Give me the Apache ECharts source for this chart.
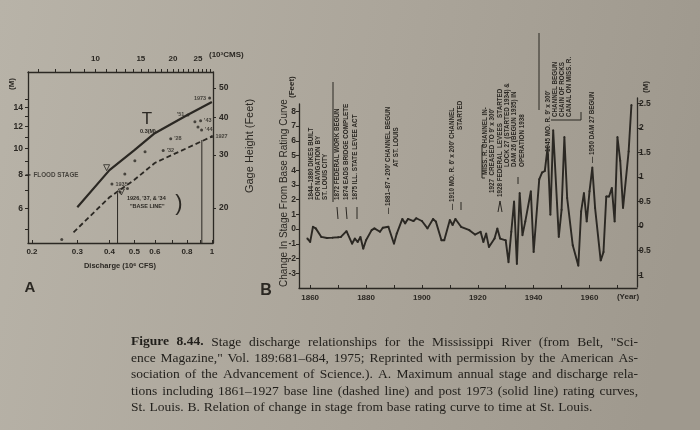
<!DOCTYPE html>
<html><head><meta charset="utf-8">
<script src="https://cdn.jsdelivr.net/npm/echarts@6/dist/echarts.min.js"></script>
<style>html,body{margin:0;padding:0;background:#aca69b;}#c{width:700px;height:430px;}</style>
</head><body><div id="c"></div>
<script>
// ---------- Panel A : stage vs discharge (log-log) ----------
const ratingQ = [0.30, 0.40, 0.50, 0.60, 0.80, 1.00];          // 10^6 cfs, post-1973 curve (solid)
const ratingFt = [20.1, 26.7, 31.1, 35.4, 40.6, 44.9];          // gage height, ft
const baseQ = [0.29, 0.40, 0.50, 0.60, 0.80, 1.00];             // 1861-1927 base line (dashed)
const baseFt = [16.6, 21.7, 24.8, 28.2, 31.6, 34.5];
const floodQ = [0.98, 0.807, 0.904, 0.859, 0.883, 0.912, 0.692, 0.647, 0.550, 0.502, 0.459, 0.409, 0.261, 0.44, 0.47, 1.00];
const floodFt = [46.3, 40.7, 38.9, 38.6, 37.1, 36.3, 33.9, 31.0, 30.7, 28.7, 25.9, 24.0, 15.7, 22.6, 23.2, 34.5];
const floodLabels = ['1973', "'51", "'43", '', '', "'44", "'28", "'32", '', '', '', '1935', '', '', '', '1927'];
const markerQ = [0.39, 0.445];
const markerFt = [27.2, 22.6];
const dropQ = [0.43, 0.914];
const dropTopFt = [22.4, 33.6];
const dischargeTicks = [0.2, 0.3, 0.4, 0.5, 0.6, 0.7, 0.8, 0.9, 1.0];
const dischargeLabels = [0.2, 0.3, 0.4, 0.5, 0.6, 0.8, 1];
const cmsTicks = [6,7,8,9,10,11,12,13,14,15,16,17,18,19,20,21,22,23,24,25,26,27,28];
const cmsLabels = [10, 15, 20, 25];
const gageFtLabels = [20, 30, 40, 50];
const stageMLabels = [6, 8, 10, 12, 14];
const stageMTicks = [5, 6, 7, 8, 9, 10, 11, 12, 13, 14, 15];

// ---------- Panel B : change in stage vs time ----------
const years = [1859,1860,1861,1862,1864,1866,1868,1870,1871,1873,1875,1876,1877,1878,1879,1880,1882,1883,1885,1886,1888,1890,1891,1893,1894,1895,1897,1898,1900,1902,1904,1905,1907,1908,1910,1911,1912,1914,1917,1919,1921,1922,1923,1924,1926,1927,1928,1930,1931,1932,1933,1934,1935,1936,1937,1939,1940,1942,1943,1944,1945,1946,1947,1949,1950,1951,1952,1954,1956,1957,1958,1959,1960,1961,1962,1964,1965,1966,1967,1968,1969,1970,1971,1972,1974,1975];
const stageChangeFt = [-0.64,-0.87,0.16,0.05,-0.53,-0.60,-0.58,-0.55,-0.53,-0.14,-0.99,-0.64,-0.87,-0.53,-1.33,-0.76,-0.07,0.05,-0.18,0.09,0.16,-0.99,-0.30,0.69,0.39,0.69,0.55,0.74,0.55,0.05,0.69,0.51,-0.76,-0.76,0.62,0.28,0.69,0.16,-0.07,-0.37,-0.18,-0.87,-0.30,-1.22,-0.64,0.05,-0.64,-0.76,-2.25,-0.18,1.88,-2.37,2.45,-0.41,0.51,2.57,-1.56,3.38,3.84,3.95,5.56,0.97,6.71,-0.53,1.31,6.25,2.11,-1.10,-2.48,1.20,2.45,0.51,2.57,4.18,1.43,-2.14,-1.56,2.22,2.22,2.80,0.51,6.25,4.64,1.43,5.27,8.43];
const yearTicks = [1860, 1880, 1900, 1920, 1940, 1960];
const yearMinorTicks = [1860,1870,1880,1890,1900,1910,1920,1930,1940,1950,1960,1970];
const ftTicks = [-3,-2,-1,0,1,2,3,4,5,6,7,8];
const mTicks = [-1,-0.5,0,0.5,1,1.5,2,2.5];

const captionBold = 'Figure 8.44.';
const captionLines = [
  'Figure 8.44.  Stage discharge relationships for the Mississippi River (from Belt, "Sci-',
  'ence Magazine," Vol. 189:681\u2013684, 1975; Reprinted with permission by the American As-',
  'sociation of the Advancement of Science.). A. Maximum annual stage and discharge rela-',
  'tions including 1861\u20131927 base line (dashed line) and post 1973 (solid line) rating curves,',
  'St. Louis. B. Relation of change in stage from base rating curve to time at St. Louis.'
];

// annotation columns of panel B (text, column x, start y at bottom; read upward)
const notesB = [
  ['1844\u20131880 DIKES BUILT', 311, 200], ['FOR NAVIGATION BY', 318, 200], ['ST. LOUIS CITY', 325, 200],
  ['1872 FEDERAL WORK BEGUN', 337, 200], ['1874 EADS BRIDGE COMPLETE', 346, 200], ['1875 ILL. STATE LEVEE ACT', 355, 200],
  ["\u2014 1881\u201387 \u2022 200' CHANNEL BEGUN", 388, 214], ['AT ST. LOUIS', 396, 167],
  ["\u2014 1910 MO. R. 6' x 200' CHANNEL", 452, 210], ['STARTED', 460, 130],
  ['MISS. R. CHANNEL IN-', 485, 175], ["1927  CREASED TO 9' x 300'", 492, 193],
  ['1928 FEDERAL  LEVEES   STARTED', 500, 197],
  ['LOCK 27 (STARTED 1934) &', 507, 167], ['DAM 26 (BEGUN 1935) IN', 514, 167], ['OPERATION 1938', 522, 167],
  ["\u2014 1945 MO. R. 9' x 300'", 548, 160], ['CHANNEL BEGUN', 555, 117], ['CHAIN OF ROCKS', 562, 117], ['CANAL ON MISS. R.', 569, 117],
  ['\u2014 1950 DAM 27 BEGUN', 592, 163]
];

const INK = '#2b2823';
const L = Math.log10;
const CFS_PER_KCMS = 0.0353147;          // 10^3 m3/s in 10^6 ft3/s
const ftFromM = m => 2.9 * m + 2.54;     // stage (m) read against gage height (ft) in the figure
const xMinA = L(0.193), xMaxA = L(1.01), yMinA = L(15.3), yMaxA = L(56.5);
const FA = '"Liberation Sans", Arial, sans-serif';
const FS = '"Liberation Serif", serif';

const chart = echarts.init(document.getElementById('c'), null, {width:700, height:430});

const baseAxis = {
  axisLine:{show:true, onZero:false, lineStyle:{color:INK, width:1.3}},
  splitLine:{show:false},
  axisTick:{show:true, lineStyle:{color:INK, width:1}},
  axisLabel:{color:INK, fontFamily:FA, fontWeight:'bold', fontSize:8}
};
function ax(o){ return echarts.util.merge(echarts.util.clone(baseAxis), o, true); }

const graphics = [];
graphics.push({type:'text', x:45, y:-3, style:{text:'the river is near ...', font:'13px '+FS, fill:INK, verticalAlign:'middle'}});
graphics.push({type:'text', x:209, y:55, style:{text:'(10\u00b3CMS)', font:'bold 8px '+FA, fill:INK, verticalAlign:'middle'}});
graphics.push({type:'text', x:12, y:84, rotation:Math.PI/2, style:{text:'(M)', font:'bold 8px '+FA, fill:INK, align:'center', verticalAlign:'middle'}});
graphics.push({type:'text', x:250, y:146, rotation:Math.PI/2, style:{text:'Gage Height (Feet)', font:'11px '+FA, fill:INK, align:'center', verticalAlign:'middle'}});
graphics.push({type:'text', x:120, y:266, style:{text:'Discharge (10\u2076 CFS)', font:'bold 7.5px '+FA, fill:INK, align:'center', verticalAlign:'middle'}});
graphics.push({type:'text', x:147, y:119, style:{text:'T', font:'17px '+FA, fill:INK, align:'center', verticalAlign:'middle'}});
graphics.push({type:'text', x:148, y:131, style:{text:'0.3(M)', font:'bold 5.5px '+FA, fill:INK, align:'center', verticalAlign:'middle'}});
graphics.push({type:'text', x:127, y:198, style:{text:"1926, '37, & '34", font:'bold 5.5px '+FA, fill:INK, verticalAlign:'middle'}});
graphics.push({type:'text', x:130, y:206, style:{text:'"BASE LINE"', font:'bold 5.5px '+FA, fill:INK, verticalAlign:'middle'}});
graphics.push({type:'text', x:179, y:204, style:{text:')', font:'22px '+FA, fill:INK, align:'center', verticalAlign:'middle'}});
graphics.push({type:'text', x:30, y:288, style:{text:'A', font:'bold 15px '+FA, fill:INK, align:'center', verticalAlign:'middle'}});
graphics.push({type:'text', x:266, y:291, style:{text:'B', font:'bold 16px '+FA, fill:INK, align:'center', verticalAlign:'middle'}});
graphics.push({type:'text', x:284, y:287, rotation:Math.PI/2, style:{text:'Change In Stage From Base Rating Curve', font:'10px '+FA, fill:INK, align:'left', verticalAlign:'middle'}});
graphics.push({type:'text', x:292, y:98, rotation:Math.PI/2, style:{text:'(Feet)', font:'bold 8px '+FA, fill:INK, align:'left', verticalAlign:'middle'}});
graphics.push({type:'text', x:646, y:87, rotation:Math.PI/2, style:{text:'(M)', font:'bold 8px '+FA, fill:INK, align:'center', verticalAlign:'middle'}});
graphics.push({type:'text', x:628, y:297, style:{text:'(Year)', font:'bold 8px '+FA, fill:INK, align:'center', verticalAlign:'middle'}});
notesB.forEach(n => graphics.push({type:'text', x:n[1], y:n[2], rotation:Math.PI/2,
  style:{text:n[0], font:'bold 6.3px '+FA, fill:INK, align:'left', verticalAlign:'middle'}}));
const segs = [[333,82,333,202],[539,33,539,110],[551,120,581,120],[581,120,581,112],[482,145,482,178],[482,145,485,145],[482,178,485,178],
  [337,207,338,219],[346,207,347,219],[357,207,357,219],[500,201,498,212],[500,201,502,212],[518,177,518,184],[461,202,461,210]];
segs.forEach(s => graphics.push({type:'line', shape:{x1:s[0],y1:s[1],x2:s[2],y2:s[3]}, style:{stroke:INK, lineWidth:1}}));

// caption, justified like the printed page
const CAP_SIZE = 13.5, CAP_LEFT = 131, CAP_WIDTH = 507;
const mctx = document.createElement('canvas').getContext('2d');
const capFont = b => (b ? 'bold ' : '') + CAP_SIZE + 'px ' + FS;
const measure = (w, b) => { mctx.font = capFont(b); return mctx.measureText(w).width; };
const boldWords = captionBold.split(' ');
captionLines.forEach((t, i) => {
  const words = t.split(' ').filter(Boolean);
  const bold = words.map((w, j) => i === 0 && j < boldWords.length);
  const widths = words.map((w, j) => measure(w, bold[j]));
  const total = widths.reduce((a, b) => a + b, 0);
  const justify = i < captionLines.length - 1;
  const gap = justify ? (CAP_WIDTH - total) / (words.length - 1) : measure(' ', false) * 1.15;
  let x = CAP_LEFT;
  words.forEach((w, j) => {
    graphics.push({type:'text', x, y:342 + i * 16.4, style:{text:w, font:capFont(bold[j]), fill:'#211f1b', verticalAlign:'middle'}});
    x += widths[j] + gap;
  });
});

const labelPos = {'1973':'left', "'51":'left', '1927':'right'};

const option = {
  animation:false,
  backgroundColor:{type:'linear', x:0, y:0, x2:1, y2:0.3, colorStops:[{offset:0,color:'#b8b3a8'},{offset:0.55,color:'#aba59a'},{offset:1,color:'#9f998e'}]},
  grid:[
    {left:28, top:72, width:185, height:171, outerBoundsMode:'none', containLabel:false},
    {left:299, right:63, top:104, bottom:142, outerBoundsMode:'none', containLabel:false},
    {left:299, right:63, top:98, bottom:143, outerBoundsMode:'none', containLabel:false}
  ],
  xAxis:[
    ax({type:'value', gridIndex:0, position:'bottom', min:xMinA, max:xMaxA,
      axisTick:{inside:true, length:3, customValues:dischargeTicks.map(L)},
      axisLabel:{margin:5, customValues:dischargeLabels.map(L), formatter:v=>String(Math.round(Math.pow(10,v)*10)/10)}}),
    ax({type:'value', gridIndex:0, position:'top', min:xMinA, max:xMaxA,
      axisTick:{inside:false, length:3, customValues:cmsTicks.map(c=>L(c*CFS_PER_KCMS))},
      axisLabel:{margin:9, customValues:cmsLabels.map(c=>L(c*CFS_PER_KCMS)), formatter:v=>String(Math.round(Math.pow(10,v)/CFS_PER_KCMS))}}),
    ax({type:'value', gridIndex:1, position:'bottom', min:1856, max:1977,
      axisTick:{inside:true, length:3, customValues:yearMinorTicks},
      axisLabel:{margin:6, customValues:yearTicks, formatter:v=>String(v)}}),
    {type:'value', gridIndex:2, show:false, min:1856, max:1977}
  ],
  yAxis:[
    ax({type:'value', gridIndex:0, position:'left', min:yMinA, max:yMaxA,
      axisTick:{inside:false, length:3, customValues:stageMTicks.map(m=>L(ftFromM(m)))},
      axisLabel:{margin:5, fontSize:8.5, customValues:stageMLabels.map(m=>L(ftFromM(m))), formatter:v=>String(Math.round((Math.pow(10,v)-2.54)/2.9))}}),
    ax({type:'value', gridIndex:0, position:'right', min:yMinA, max:yMaxA,
      axisTick:{inside:false, length:3, customValues:gageFtLabels.map(L)},
      axisLabel:{margin:6, fontSize:8.5, customValues:gageFtLabels.map(L), formatter:v=>String(Math.round(Math.pow(10,v)))}}),
    ax({type:'value', gridIndex:1, position:'left', min:-4, max:8.5,
      axisTick:{inside:false, length:3, customValues:ftTicks},
      axisLabel:{margin:3, fontSize:8.5, customValues:ftTicks, formatter:v=>String(v)}}),
    ax({type:'value', gridIndex:2, position:'right', min:-1.24, max:2.61,
      axisTick:{inside:false, length:5, customValues:mTicks},
      axisLabel:{margin:2, fontSize:8.5, customValues:mTicks, formatter:v=>String(Math.abs(v))}})
  ],
  series:[
    {type:'line', xAxisIndex:0, yAxisIndex:0, symbol:'none', silent:true,
      data:ratingQ.map((q,i)=>[L(q), L(ratingFt[i])]), lineStyle:{color:INK, width:2.2}},
    {type:'line', xAxisIndex:0, yAxisIndex:0, symbol:'none', silent:true,
      data:baseQ.map((q,i)=>[L(q), L(baseFt[i])]), lineStyle:{color:INK, width:1.8, type:[5,3]}},
    ...dropQ.map((q,i)=>({type:'line', xAxisIndex:0, yAxisIndex:0, symbol:'none', silent:true,
      data:[[L(q), L(dropTopFt[i])],[L(q), yMinA]], lineStyle:{color:INK, width:1}})),
    {type:'scatter', xAxisIndex:0, yAxisIndex:0, symbolSize:3, silent:true, itemStyle:{color:INK},
      data:floodQ.map((q,i)=>({value:[L(q), L(floodFt[i])], label:{position:labelPos[floodLabels[i]]||'right'}})),
      label:{show:true, formatter:p=>floodLabels[p.dataIndex], distance:2, color:INK, fontFamily:FA, fontWeight:'bold', fontSize:5.5}},
    {type:'scatter', xAxisIndex:0, yAxisIndex:0, symbol:'triangle', symbolRotate:180, symbolSize:6, silent:true,
      itemStyle:{color:'transparent', borderColor:INK, borderWidth:1},
      data:markerQ.map((q,i)=>[L(q), L(markerFt[i])])},
    {type:'scatter', xAxisIndex:0, yAxisIndex:0, symbol:'rect', symbolSize:[5,1.5], silent:true, itemStyle:{color:INK},
      data:[[xMinA, L(ftFromM(8))]],
      label:{show:true, position:'right', distance:3, formatter:'FLOOD STAGE', color:INK, fontFamily:FA, fontWeight:'bold', fontSize:6.3}},
    {type:'line', xAxisIndex:2, yAxisIndex:2, symbol:'circle', symbolSize:2, silent:true,
      data:years.map((y,i)=>[y, stageChangeFt[i]]),
      lineStyle:{color:INK, width:1.9}, itemStyle:{color:INK}}
  ],
  graphic:graphics
};
chart.setOption(option);
</script></body></html>
